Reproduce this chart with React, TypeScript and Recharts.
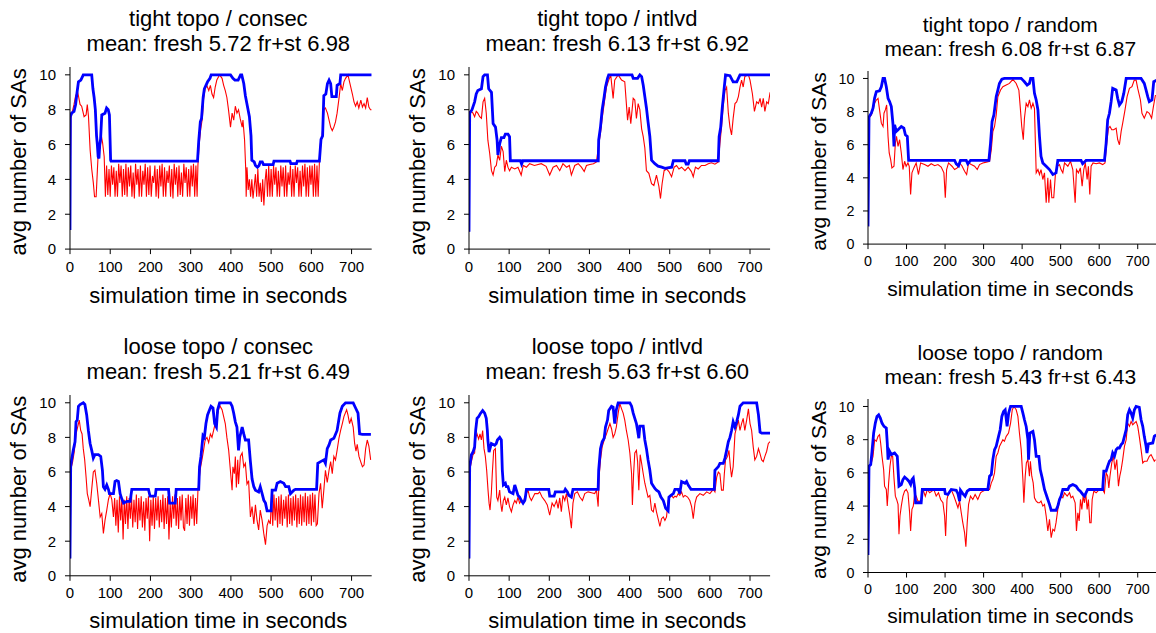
import React from 'react';
import { LineChart, Line, XAxis, YAxis } from 'recharts';

type Pt = [number, number];

const xTicks = [0, 100, 200, 300, 400, 500, 600, 700];
const yTicks = [0, 2, 4, 6, 8, 10];

const panelTitles = [
  'tight topo / consec',
  'tight topo / intlvd',
  'tight topo / random',
  'loose topo / consec',
  'loose topo / intlvd',
  'loose topo / random',
];
const panelMeans = [
  'mean: fresh 5.72 fr+st 6.98',
  'mean: fresh 6.13 fr+st 6.92',
  'mean: fresh 6.08 fr+st 6.87',
  'mean: fresh 5.21 fr+st 6.49',
  'mean: fresh 5.63 fr+st 6.60',
  'mean: fresh 5.43 fr+st 6.43',
];

const tightConsecFrSt: Pt[] = [[0,1.1],[1,7.6],[4,7.8],[10,7.9],[14,8.3],[17,8.9],[21,9.6],[27,9.7],[33,10],[54,10],[57,9.2],[60,8.7],[63,8.0],[66,6.5],[68,6.0],[70,5.3],[72,5.2],[74,6.0],[76,6.3],[79,7.7],[87,7.8],[91,8.1],[95,8.0],[98,7.7],[101,5.1],[102,5.05],[317,5.05],[320,6.2],[324,7.3],[327,7.5],[331,8.7],[334,9.2],[338,9.4],[342,9.6],[348,9.8],[351,10],[399,10],[405,9.8],[410,9.7],[418,9.7],[424,10],[427,10],[432,9.5],[436,8.8],[441,8.2],[446,7.6],[450,6.5],[452,5.1],[458,5.0],[461,4.8],[466,4.7],[470,4.8],[473,5.0],[478,5.0],[481,4.85],[505,4.85],[507,5.05],[547,5.05],[549,4.9],[563,4.9],[565,5.05],[620,5.05],[624,6.3],[628,6.5],[631,8.8],[636,8.9],[640,9.5],[644,9.7],[648,9.5],[651,8.75],[662,8.75],[664,9.4],[671,9.5],[673,10],[750,10]];

const tightConsecFresh: Pt[] = [[0,1.1],[2,7.5],[5,7.8],[10,8.3],[14,8.8],[19,9.0],[21,8.8],[25,8.3],[29,8.2],[32,7.9],[35,7.6],[40,7.7],[43,8.3],[46,7.6],[50,5.7],[54,4.6],[58,3.8],[61,3.0],[65,3.0],[68,4.5],[71,5.9],[75,5.8],[78,6.5],[81,6.1],[85,5.3],[88,3.0],
[91,4.8],[94,3.1],[97,4.6],[100,3.0],[103,4.8],[106,3.7],[109,4.7],[112,3.0],[115,4.5],[118,3.0],[121,4.9],[124,3.8],[127,4.8],[130,3.0],[133,4.6],[136,3.1],[139,4.9],[142,3.0],[145,4.7],[148,3.6],[151,4.8],[154,3.0],[157,4.4],[160,2.9],[163,4.9],[166,3.7],[169,4.6],[172,3.0],[175,4.8],[178,3.0],[181,4.5],[184,3.7],[187,4.9],[190,3.0],[193,4.7],[196,3.1],[199,4.8],[202,3.0],[205,4.2],[208,3.8],[211,4.8],[214,3.0],[217,4.6],[220,2.9],[223,4.8],[226,3.6],[229,4.9],[232,3.0],[235,4.7],[238,3.0],[241,4.5],[244,3.8],[247,4.8],[250,3.0],[253,4.6],[256,2.9],[259,4.9],[262,3.7],[265,4.7],[268,3.0],[271,4.8],[274,3.1],[277,4.4],[280,3.0],[283,4.9],[286,3.8],[289,4.7],[292,3.0],[295,4.6],[298,3.0],[301,4.8],[304,3.6],[307,4.9],[310,3.0],[313,4.8],[316,3.0],[318,4.8],
[321,6.0],[325,6.9],[329,7.5],[332,8.6],[336,9.2],[340,9.4],[345,9.1],[349,9.4],[353,8.9],[357,8.7],[361,9.3],[365,9.7],[372,10],[378,9.8],[382,9.4],[386,9.1],[390,8.7],[394,8.0],[399,7.0],[403,7.8],[407,7.4],[411,8.2],[415,7.8],[419,8.0],[423,7.5],[428,7.0],[430,7.4],[434,6.25],[437,4.5],
[438,3.0],[440,4.7],[443,3.4],[446,4.0],[449,3.0],[452,4.0],[455,2.9],[458,3.6],[461,4.3],[464,3.0],[467,4.6],[470,3.0],[473,3.8],[476,2.7],[479,4.0],[482,2.5],[485,3.9],[488,4.6],[491,3.0],[494,4.8],[497,3.0],[500,4.6],[503,3.0],[506,4.8],[509,3.7],[512,4.7],[515,3.0],[518,4.5],[521,3.0],[524,4.8],[527,3.6],[530,4.7],[533,3.0],[536,4.8],[539,3.0],[542,4.4],[545,3.7],[548,4.8],[551,3.0],[554,4.6],[557,3.0],[560,4.8],[563,3.8],[566,4.7],[569,3.0],[572,4.5],[575,3.0],[578,4.8],[581,3.6],[584,4.9],[587,3.0],[590,4.7],[593,3.0],[596,4.8],[599,3.7],[602,4.8],[605,3.0],[608,4.9],[611,3.0],[614,4.8],[617,3.0],[620,5.0],
[623,6.2],[627,6.5],[631,8.0],[635,8.1],[640,7.8],[644,7.4],[648,7.0],[652,6.8],[656,7.0],[660,7.3],[664,7.8],[669,8.7],[673,9.5],[677,9.1],[681,9.6],[685,9.8],[691,10],[696,9.5],[702,8.9],[706,8.45],[710,8.2],[714,8.45],[718,8.1],[723,8.55],[727,8.15],[731,8.35],[735,8.1],[739,8.7],[743,8.15],[747,8.0],[750,8.0]];

const tightIntlvdFrSt: Pt[] = [[0,1.0],[1.7,7.8],[7.5,8.0],[14,8.45],[18,8.9],[22,9.1],[31,9.2],[35,9.9],[39,10],[46,10],[49,9.2],[56,9.0],[60,7.2],[66,7.0],[70,6.25],[72,5.4],[76.5,6.05],[80.6,6.4],[87,6.4],[90.6,6.6],[97,6.6],[101,6.45],[103,5.07],[128,5.07],[131,4.88],[134,5.07],[322,5.07],[323,6.25],[327.5,7.0],[331.7,8.0],[336.7,8.75],[340,9.3],[345,9.8],[348,10],[406,10],[409,9.8],[420,9.8],[425.6,10],[430,9.9],[434,9.4],[438,8.75],[442,8.1],[446,7.3],[450.5,6.45],[454.7,5.1],[463,4.9],[471,4.76],[480,4.7],[488,4.63],[505,4.7],[509,5.07],[538,5.07],[541,4.88],[546,4.88],[549,5.07],[621,5.07],[623,6.45],[627,7.0],[631,8.15],[635,9.1],[639,10],[650,9.95],[658,9.6],[667,9.6],[675,10],[750,10]];

const tightIntlvdFresh: Pt[] = [[0,1.0],[1.7,7.9],[6,7.9],[10,7.8],[14,7.6],[18,7.9],[22,7.8],[26.6,7.6],[31,7.5],[35,8.45],[39,8.65],[43,7.8],[47,6.25],[51.5,5.5],[56,4.5],[60,4.25],[64,4.7],[68,4.8],[72,5.4],[76.5,5.1],[80.6,5.9],[85,5.6],[89,4.45],[93,5.1],[97,4.7],[101,4.5],[105.6,4.7],[114,4.6],[122,4.7],[130,4.25],[135,4.8],[143,4.7],[151,4.9],[163,4.8],[180,4.9],[192,4.75],[201,4.25],[209.5,4.7],[218,4.8],[226,4.5],[234,4.9],[243,4.7],[250,4.8],[255,4.25],[263.5,4.8],[272,4.9],[280,4.7],[287,4.45],[292.6,4.8],[301,4.85],[310,4.9],[317.5,5.0],[323,6.0],[327.5,6.65],[331.7,7.5],[336.7,8.35],[342.5,9.3],[346.6,9.6],[353,10],[359,8.65],[363,9.7],[371.6,10],[380,9.7],[388,9.6],[395,7.4],[399,8.15],[403,7.2],[409,8.65],[413,8.55],[417,7.5],[421.4,8.35],[425.6,8.0],[430,6.9],[434,6.45],[438,5.8],[442,4.5],[448,4.35],[454.7,3.75],[460.5,3.65],[467,4.25],[473,3.6],[477,2.9],[481,3.75],[486,4.5],[492,4.6],[498,4.45],[504.6,4.15],[511,4.7],[517,4.8],[523,4.6],[529.5,4.7],[538,4.5],[546,4.7],[554,4.45],[558.6,4.15],[564,4.7],[571,4.6],[579,4.8],[588,4.8],[596,4.9],[604,4.95],[612.6,4.87],[621,5.0],[625,6.05],[629,7.0],[633,8.15],[637.6,9.1],[641.7,9.3],[646,7.8],[650,7.0],[654,6.55],[658,7.5],[662.5,8.35],[666.7,8.45],[671,8.75],[675,9.3],[679,9.7],[683,9.3],[687,9.9],[696,10],[700,9.7],[706,8.9],[711,7.9],[716.5,8.45],[721,8.35],[725,8.65],[729,8.15],[733,8.65],[737,7.9],[741.5,8.45],[745.6,8.35],[750,9.0]];

const tightRandomFrSt: Pt[] = [[0,1.07],[2.6,7.67],[8.6,7.9],[13,8.2],[17,8.8],[21.6,9.2],[30,9.25],[34.6,9.5],[39,10],[43,10],[47.5,9.5],[52,8.8],[56,8.6],[60.5,8.3],[65,7.2],[67.4,5.9],[69,7.2],[73.5,6.8],[78,6.9],[82,7.0],[86.4,7.1],[93,7.0],[97,6.6],[102,6.5],[105.4,5.05],[224.7,5.05],[229,4.85],[235,4.73],[240,5.05],[255,5.05],[259,4.85],[266,5.05],[313.7,5.05],[318,6.1],[322,7.4],[326.7,7.8],[332.7,8.9],[337,9.3],[341,9.7],[347.4,9.95],[354,10],[397.6,10],[402,9.9],[406,9.8],[413,9.6],[419,9.7],[422,10],[428,10],[432,9.1],[436.5,8.7],[441,8.1],[445,6.5],[449,5.3],[453.7,4.9],[462.4,4.7],[471,4.5],[479.7,4.2],[488,4.3],[492.6,5.05],[553,5.05],[557,4.85],[566,5.05],[613.7,5.05],[618,6.1],[622,7.5],[626.6,7.9],[631,8.6],[635,9.4],[644,9.3],[648,8.8],[652.5,8.4],[658.6,8.6],[663.8,9.1],[670,10],[708.7,10],[717,9.7],[721.7,9.3],[726,8.9],[730,8.6],[737,8.7],[741.5,9.8],[750,9.9]];

const tightRandomFresh: Pt[] = [[0,1.07],[2.6,7.6],[8.6,7.8],[13,8.1],[17,8.5],[21.6,8.7],[26,8.8],[30,8.1],[34.6,7.3],[39,7.1],[41.5,7.9],[45,8.1],[48.4,8.4],[52,6.5],[55,5.5],[58.8,5.1],[62,4.6],[67.4,4.7],[71,6.1],[74,6.5],[78,5.9],[82,6.3],[86.4,5.5],[90.7,4.5],[95,5.0],[99,4.7],[103.7,4.9],[107,4.7],[110.6,3.0],[114,4.3],[119,4.6],[125,4.9],[131,4.2],[136.5,4.9],[147,4.8],[155.6,4.7],[164,4.85],[173,4.73],[181.5,4.8],[190,4.65],[197,4.3],[200.6,2.8],[204,4.5],[209,4.9],[218,4.7],[224.7,4.5],[231.6,4.6],[237.7,4.9],[243.7,4.73],[250.6,4.4],[256,4.2],[261,4.9],[268,4.8],[276.6,4.7],[283.5,4.5],[289.5,4.8],[298,4.9],[307,4.95],[315.5,5.0],[320,5.7],[324,6.8],[328.4,7.1],[332.7,7.8],[337,8.9],[344,9.3],[350,9.5],[358.7,9.6],[367,9.7],[376,9.95],[384.6,9.7],[391.5,9.3],[395,8.3],[399,7.1],[403,6.3],[406,7.6],[410.5,8.5],[415,8.3],[419,8.7],[423.5,8.2],[428,8.5],[432,8.2],[436.5,4.3],[441,4.5],[445,4.2],[449,4.5],[453.7,3.9],[458,4.3],[462.4,2.5],[466.7,4.0],[469.3,2.5],[473.6,3.9],[477,2.8],[482,2.8],[486.6,4.3],[491,4.7],[497,4.8],[501,4.5],[505.6,4.3],[510,4.9],[518.6,4.7],[525.5,5.0],[531.5,4.5],[537.6,2.5],[541,4.5],[546,4.3],[551,4.6],[555.7,3.5],[560,4.5],[564,4.9],[568.7,3.9],[572,4.7],[575.6,3.0],[579,4.7],[584,4.9],[592,4.85],[600.7,4.9],[609,4.8],[615,4.9],[619.6,6.1],[624,7.0],[628,7.1],[632.6,6.9],[637.8,6.9],[644,7.0],[648,6.3],[652.5,6.0],[657,6.8],[661,7.3],[667,8.1],[672.4,8.9],[678.5,9.4],[685,9.5],[691,9.9],[695.8,9.9],[700,9.4],[707,8.7],[711,7.9],[717,7.6],[724,8.0],[730,7.9],[736,7.6],[740.7,8.3],[746,9.0]];

const looseConsecFrSt: Pt[] = [[0,1.0],[1.7,6.3],[4,6.7],[8,7.25],[12.5,7.75],[15,8.9],[18,9.0],[21,9.8],[25,9.9],[33,10],[37,9.9],[41.5,9.3],[45.7,8.4],[50,7.65],[54,7.25],[58,6.8],[62,7.0],[70.6,7.0],[76.4,6.9],[80.6,6.1],[83,5.15],[87,5.0],[91.4,5.25],[95.5,5.0],[98,4.75],[108,4.75],[112,5.45],[116,5.5],[120.4,5.45],[124.6,4.75],[128.7,4.45],[133,4.2],[141,4.3],[149.5,4.3],[153.7,5.0],[195,5.0],[199,4.6],[212,4.6],[214,5.0],[245,5.0],[247.5,4.2],[261.6,4.2],[264,5.0],[320,5.0],[322,6.3],[325.6,6.9],[330.6,8.1],[334,8.0],[338,8.8],[342,9.3],[347,9.6],[350.5,9.8],[355.5,9.7],[359.6,8.8],[364,8.6],[367,9.6],[372,10],[398.7,10],[403,9.8],[407,9.4],[411,8.9],[415,8.6],[419,7.25],[422,8.0],[428,8.6],[432,8.2],[436,7.85],[444,7.85],[448.5,6.6],[452.6,5.6],[457,5.15],[461,4.95],[469,4.85],[473,5.15],[477.6,4.75],[481.7,4.37],[486,4.2],[490,3.75],[500,3.75],[502.5,4.95],[511,4.95],[515,5.35],[523,5.45],[531.5,5.35],[536,5.15],[544,5.15],[548,4.75],[556.5,4.95],[560.6,5.0],[613,5.0],[616,6.5],[623,6.6],[631,6.7],[635,6.5],[639.5,7.35],[643.7,7.55],[648,7.85],[656,7.95],[664,8.4],[671,9.4],[677,9.8],[685,10],[704,10],[710,9.7],[716,9.4],[720,8.2],[727,8.17],[748,8.17]];

const looseConsecFresh: Pt[] = [[0,1.0],[2.5,6.2],[6.6,6.6],[10.8,7.2],[15,8.2],[19,8.6],[23,9.0],[26.6,8.4],[30,8.2],[33,7.35],[36.5,6.7],[40,5.7],[43,4.75],[46.5,4.4],[50,4.0],[54,5.0],[58,6.0],[62,6.1],[66.4,5.35],[70.6,4.4],[75,3.4],[79,3.6],[83,2.45],[87,3.2],[91.4,3.8],[95.5,4.4],[99.7,4.75],[104,4.4],[108,3.4],
[111,4.5],[114,2.9],[117,4.4],[120,2.5],[123,4.6],[126,3.2],[129,4.5],[132,2.1],[135,4.4],[138,3.0],[141,4.6],[144,2.7],[147,4.5],[150,3.3],[153,4.6],[156,2.8],[159,4.4],[162,3.1],[165,4.7],[168,2.7],[171,4.5],[174,3.2],[177,4.6],[180,2.8],[183,4.3],[186,2.6],[189,4.5],[192,3.3],[195,4.6],[198,2.0],[201,4.4],[204,2.9],[207,4.6],[210,2.7],[213,4.5],[216,3.2],[219,4.6],[222,2.8],[225,4.4],[228,3.1],[231,4.7],[234,2.7],[237,4.5],[240,3.0],[243,4.6],[246,2.1],[249,4.2],[252,2.8],[255,4.6],[258,3.3],[261,4.7],[264,2.9],[267,4.5],[270,2.7],[273,4.6],[276,3.2],[279,4.7],[282,2.8],[285,2.6],[288,4.5],[291,3.0],[294,4.7],[297,2.9],[300,4.6],[303,3.3],[306,4.7],[309,2.9],[312,4.5],[315,3.0],[318,4.9],
[324,6.2],[328,6.7],[332,7.25],[336,7.85],[340.5,8.0],[344.7,7.7],[349,8.2],[353,8.0],[357,8.4],[361,8.8],[365.5,9.2],[372,9.85],[378,9.6],[382,9.2],[386,8.8],[390,8.0],[394.5,7.25],[398.7,6.1],[403,4.95],[405,6.3],[408.6,5.9],[411,6.9],[413.6,5.1],[417,6.7],[419,5.3],[423.6,6.9],[428,7.1],[432,6.3],[436,6.5],[440,5.3],[444,5.5],[448.5,3.4],[452.6,4.0],[457,3.0],[461,4.1],[465,3.2],[469,2.65],[473,3.8],[477.6,3.2],[481.7,2.45],[486,1.8],[490,2.9],[494,3.2],[498,3.0],
[501,4.6],[504,2.9],[507,4.7],[510,3.2],[513,4.5],[516,2.8],[519,4.6],[522,3.0],[525,4.7],[528,2.9],[531,4.4],[534,3.3],[537,4.6],[540,2.8],[543,4.7],[546,3.0],[549,4.5],[552,2.9],[555,4.6],[558,3.2],[561,4.7],[564,2.8],[567,4.5],[570,3.0],[573,4.7],[576,2.9],[579,4.6],[582,3.1],[585,4.8],[588,2.9],[591,4.6],[594,3.0],[597,4.7],[600,2.9],[603,4.8],[606,3.1],[609,4.7],[612,2.9],[615,3.0],
[619,4.75],[623,5.35],[627,3.9],[631,4.95],[635,6.1],[639.5,5.4],[644,6.1],[648,6.6],[652,5.9],[656,6.9],[660,6.7],[664,7.25],[668.6,7.95],[672.8,8.4],[677,8.8],[681,9.2],[687.7,9.6],[691,9.3],[695,8.8],[699,9.1],[704,8.6],[707.6,7.65],[711,7.2],[714,7.6],[718.4,6.9],[722.6,6.6],[727,6.3],[731,6.4],[735,7.35],[739,7.85],[743,7.5],[747.5,6.7]];

const looseIntlvdFrSt: Pt[] = [[0,1.0],[1.7,6.3],[6,7.0],[10,7.15],[14,7.45],[16.6,8.4],[20,9.1],[24,9.2],[29,9.4],[34,9.55],[39,9.4],[43,9.1],[45.7,8.4],[47,7.85],[50,7.15],[55.7,7.65],[64,7.55],[68,7.65],[70.7,7.85],[76.5,8.0],[80.6,7.85],[83,6.1],[85.6,5.25],[90.6,5.35],[93,5.15],[97,5.15],[101,4.85],[109.7,4.75],[114,5.25],[118,4.95],[122,4.65],[126,4.55],[130.5,4.35],[134.7,4.2],[139,4.35],[140.5,4.55],[143,5.0],[198.7,5.0],[201,4.6],[212,4.6],[215,4.85],[237,4.85],[240,5.0],[245,4.85],[248.5,4.65],[255,4.55],[259,5.0],[321.7,5.0],[323,6.1],[327.5,7.35],[331.7,7.75],[336.7,7.95],[340,8.6],[345,9.0],[348,9.55],[355,9.8],[359,9.75],[363,8.8],[367,9.6],[371.6,10],[400.7,10],[405,9.8],[409,9.4],[413,9.1],[417,8.8],[420,8.4],[423,7.95],[425.6,8.65],[434,8.65],[438,7.85],[442,7.35],[446,6.7],[450.5,6.1],[454.7,5.35],[463,5.05],[467,4.95],[473,4.85],[478,4.55],[484,4.35],[490,3.9],[496,3.75],[498,4.55],[503,4.65],[509,4.75],[513,5.0],[521,5.0],[525,4.75],[529.5,5.45],[538,5.35],[542,5.45],[546,5.25],[553,5.0],[611,5.0],[612.6,6.1],[621,6.3],[625,6.5],[633.4,6.5],[637.6,6.8],[641.7,7.25],[646,7.75],[650,8.0],[654,8.4],[658,8.9],[662.5,8.6],[666.7,8.9],[671,9.3],[675,9.8],[683,10],[716.5,10],[721,9.3],[725,8.3],[729,8.25],[750,8.25]];

const looseIntlvdFresh: Pt[] = [[0,1.0],[1.7,6.1],[6,6.6],[10,7.0],[14,7.1],[16.6,8.0],[20,8.2],[24,7.9],[27.4,8.2],[30.8,7.85],[34,8.4],[37.4,7.35],[40.7,6.9],[44,6.1],[47.4,4.95],[50,4.2],[52.4,3.8],[55.7,4.8],[58,5.9],[61.5,7.25],[65.7,7.35],[69,4.55],[72,4.35],[76.5,4.95],[79,4.2],[82,3.7],[85.6,4.35],[89,4.55],[93,4.1],[97,4.5],[101,4.0],[105.6,3.7],[109.7,4.1],[114,4.35],[118,4.2],[122,4.55],[126,4.2],[130.5,4.35],[134.7,4.2],[139,4.55],[143,4.75],[147,4.95],[151,4.55],[155.4,4.35],[164,4.75],[172,4.75],[176,4.85],[182,4.55],[188.7,4.35],[195,4.1],[201,3.5],[207,4.2],[212,4.0],[218,4.35],[222,3.9],[226,4.5],[230,3.7],[234,4.65],[238.6,4.35],[242.7,4.75],[247,4.1],[251,3.5],[255,2.75],[259,4.2],[263.5,4.75],[270,4.85],[276,4.55],[282.6,4.35],[288.4,4.75],[296.7,4.85],[305,4.8],[313,4.75],[317.5,4.95],[321.7,4.0],[324,5.7],[327.5,6.7],[331.7,7.45],[336.7,7.85],[342.5,8.2],[346.6,8.5],[351,8.8],[355,8.5],[359,8.0],[363,8.2],[367,8.6],[371.6,9.4],[375.7,9.95],[380,9.65],[384,9.4],[388,9.0],[392,8.4],[396.5,7.85],[400.7,7.1],[405,5.9],[407,4.1],[410,5.9],[413,7.1],[417,7.25],[420,6.6],[423,4.95],[426.4,7.0],[430,6.5],[434,5.9],[438,5.35],[442,4.95],[446,4.55],[450.5,4.65],[454.7,3.8],[459,3.7],[463,4.2],[467,3.7],[471,3.3],[475.5,2.85],[479.6,3.3],[484,3.4],[488,3.2],[492,3.4],[496,4.35],[500,4.55],[504.6,4.65],[509,4.5],[513,4.6],[517,4.55],[521,4.75],[525,4.65],[529.5,4.85],[533.7,4.55],[538,4.65],[544.5,4.55],[550,4.35],[554.5,4.0],[558.6,3.3],[563,4.2],[567,4.55],[575,4.75],[583.5,4.65],[592,4.85],[600,4.75],[608.5,5.0],[612.6,4.85],[617,5.7],[621,6.0],[625,5.9],[629,4.95],[633.4,4.95],[636,5.9],[639,6.7],[644,6.9],[647.5,7.25],[651,6.3],[654,5.7],[658,6.3],[662.5,8.2],[666.7,8.6],[671,9.0],[675,8.4],[679,8.8],[683,9.1],[687,8.4],[691.6,9.0],[696,9.65],[700,8.8],[704,8.4],[708,7.45],[712,6.7],[716.5,6.9],[721,7.35],[725,7.05],[729,6.7],[733,6.6],[737,6.9],[741.5,7.2],[745.6,7.65],[750,7.75]];

const looseRandomFrSt: Pt[] = [[0,1.06],[2.6,6.4],[7,6.5],[10.4,7.3],[14.7,8.4],[19,9.0],[23.3,9.4],[27.7,9.5],[32,9.3],[36.3,9.0],[41.5,8.8],[47.5,8.7],[50,7.8],[52,6.8],[56,7.3],[60.5,7.1],[69,7.2],[76,7.0],[78,6.2],[80.4,5.2],[86.4,5.3],[90.7,5.6],[95,5.75],[102,5.6],[106,5.5],[110.6,5.3],[114,5.6],[117.5,5.7],[121,5.1],[123.6,4.2],[138,4.2],[141,5.0],[198.8,5.0],[200.5,4.75],[207.4,4.7],[216,5.0],[229,4.95],[233.4,4.75],[237.7,4.3],[240,4.95],[246,4.75],[252,4.6],[257.5,4.9],[263.6,5.0],[311,5.0],[315.5,5.8],[320,5.9],[324,6.8],[328.4,7.4],[332.7,7.6],[338.8,8.2],[343,8.6],[347.4,9.4],[351.8,9.7],[356,9.8],[361,8.8],[365,9.6],[370,10],[397.6,10],[402,9.6],[406,9.2],[410.5,8.8],[415,8.0],[416.6,6.8],[420,8.4],[428,8.5],[432,8.0],[436.5,7.0],[443.4,7.0],[447,6.2],[452,5.7],[458,5.0],[462.4,4.7],[466.7,4.4],[471,4.1],[475.4,3.75],[488,3.75],[492.6,4.0],[497,4.4],[501,4.6],[505.6,5.0],[518.6,5.0],[523,5.2],[531.5,5.3],[540,5.2],[546,5.0],[551,4.9],[557.5,4.7],[561.8,4.6],[570,5.0],[609,5.0],[612,6.1],[618,6.1],[622,6.4],[626.6,6.7],[631,6.8],[635,7.2],[639.6,7.0],[644,7.4],[648,7.5],[652.5,7.5],[657,7.7],[661,7.8],[665.5,8.2],[670,8.6],[674,9.5],[678.5,9.8],[682.8,9.6],[687,9.3],[691.4,9.8],[695.8,10],[704,9.95],[708.7,9.2],[713,8.8],[717,8.2],[721.7,7.6],[724,7.2],[727.7,7.75],[739,7.8],[743,8.2],[748,8.3]];

const looseRandomFresh: Pt[] = [[0,1.06],[2.6,6.4],[8.6,6.6],[13,7.0],[17.3,8.0],[21.6,7.9],[26,8.2],[30,8.3],[32.8,7.8],[36.3,7.0],[40.6,6.2],[43,5.2],[47.5,5.0],[50,4.0],[53.6,5.4],[57,6.4],[60.5,7.0],[64,7.0],[67.4,5.7],[71,4.6],[74.3,4.4],[78,4.1],[80.4,2.3],[83,3.4],[86.4,4.0],[90.7,4.6],[95,4.9],[99.4,5.0],[103.7,4.8],[108,3.6],[110.6,2.5],[114,3.8],[117.5,4.0],[121,4.7],[125,4.6],[129.6,4.3],[138,4.3],[142.6,5.0],[148.7,4.6],[154,5.0],[160,4.8],[166,4.9],[171,5.0],[177,4.6],[183,4.8],[188.4,4.4],[194.5,4.2],[198.8,3.4],[201.4,2.2],[205,4.4],[209,4.8],[216,5.0],[223,4.6],[229,4.2],[233.4,3.9],[237.7,4.3],[242,3.6],[246,3.0],[250.6,2.4],[254,1.55],[257.5,3.0],[261,4.1],[266,4.6],[272,4.4],[278,4.7],[285,4.4],[292,4.8],[298,4.9],[307,5.0],[315.5,5.0],[320,5.4],[324,5.6],[328.4,6.0],[332.7,7.0],[337,7.2],[341.4,7.6],[345.7,7.8],[350,8.0],[354,7.9],[358.7,8.2],[364.7,8.4],[370,9.0],[374.4,9.8],[378.6,10],[384.6,9.8],[389,9.4],[393,8.4],[397.6,7.4],[402,5.6],[404.5,4.2],[408,5.8],[411,6.6],[415,6.8],[419,5.8],[421.4,6.7],[425,5.8],[428.7,5.4],[432,4.5],[436.5,4.3],[441,4.2],[445,4.2],[449,4.3],[453.7,4.0],[458,4.1],[462.4,3.4],[466.7,2.5],[471,3.2],[475.4,2.1],[479.7,2.6],[484,2.5],[488,3.0],[492.6,3.8],[497,4.3],[501,4.6],[505.6,4.5],[510,4.8],[517,4.6],[523,4.8],[527,4.5],[531.5,4.6],[537.6,4.2],[541,2.5],[544.6,3.6],[548,3.1],[551.4,4.4],[555,3.8],[558.3,4.6],[561.8,4.2],[565,4.8],[568.7,3.8],[572,4.4],[575.6,3.0],[579,3.0],[581.8,4.4],[586,4.9],[592,4.8],[600.6,5.0],[609,5.0],[613.5,4.8],[618,6.0],[622,5.8],[625,5.1],[628,5.8],[632.6,6.6],[637,7.0],[641,6.2],[645.6,6.8],[650,5.2],[653.4,5.8],[657,6.2],[661,6.8],[665.5,7.6],[670,8.0],[674,9.0],[678.5,8.8],[682.8,9.1],[687,8.9],[691.4,9.0],[695.8,9.1],[700,8.8],[704,8.2],[708.7,7.4],[713,6.6],[717,6.7],[724,6.7],[730,7.0],[734.6,7.1],[739,6.9],[743,6.7],[746,6.8]];

const freshSeries = [tightConsecFresh, tightIntlvdFresh, tightRandomFresh, looseConsecFresh, looseIntlvdFresh, looseRandomFresh];
const frStSeries = [tightConsecFrSt, tightIntlvdFrSt, tightRandomFrSt, looseConsecFrSt, looseIntlvdFrSt, looseRandomFrSt];

const FONT = '"Liberation Sans", Arial, Helvetica, sans-serif';
const Y_MAX = 10.45;

interface Frame { left: number; right: number; top: number; bottom: number; s: number; xl: number; }

const frames: Frame[] = [
  { left: 70, right: 371.7, top: 66.9, bottom: 249, s: 1, xl: 54 },
  { left: 469.3, right: 770.4, top: 66.9, bottom: 249, s: 1, xl: 54 },
  { left: 868.3, right: 1157.3, top: 71.2, bottom: 244.3, s: 0.955, xl: 54 },
  { left: 70, right: 371.7, top: 394.9, bottom: 575.7, s: 1, xl: 52 },
  { left: 469.3, right: 770.4, top: 394.9, bottom: 575.7, s: 1, xl: 52 },
  { left: 868.3, right: 1157.3, top: 399.2, bottom: 572.7, s: 0.955, xl: 53 },
];

const toRows = (pts: Pt[]) => pts.map(([t, v]) => ({ t, v }));

function Panel({ f, idx }: { f: Frame; idx: number }) {
  const YW = 60;
  const XH = 50;
  const MT = 2;
  const MR = 3;
  const chartLeft = f.left - YW;
  const chartTop = f.top - MT;
  const width = f.right - chartLeft + MR;
  const height = f.bottom + XH - chartTop;
  const tickStyle = { fontSize: 15 * f.s, fill: '#000', fontFamily: FONT };
  return (
    <div style={{ position: 'absolute', left: chartLeft, top: chartTop, width, height }}>
      <LineChart width={width} height={height} margin={{ top: MT, right: MR, left: 0, bottom: 0 }}>
        <XAxis
          type="number"
          dataKey="t"
          domain={[0, 750]}
          ticks={xTicks}
          interval={0}
          allowDataOverflow
          height={XH}
          tickSize={5}
          tickMargin={7 * f.s}
          stroke="#000"
          tick={tickStyle}
        />
        <YAxis
          type="number"
          dataKey="v"
          domain={[0, Y_MAX]}
          ticks={yTicks}
          interval={0}
          allowDataOverflow
          width={YW}
          tickSize={5}
          tickMargin={9 * f.s}
          stroke="#000"
          tick={tickStyle}
        />
        <Line
          data={toRows(freshSeries[idx])}
          dataKey="v"
          type="linear"
          stroke="#ff0000"
          strokeWidth={1.1}
          dot={false}
          activeDot={false}
          isAnimationActive={false}
        />
        <Line
          data={toRows(frStSeries[idx])}
          dataKey="v"
          type="linear"
          stroke="#0000ff"
          strokeWidth={2.8}
          dot={false}
          activeDot={false}
          isAnimationActive={false}
        />
      </LineChart>
    </div>
  );
}

function Labels() {
  return (
    <svg
      width={1156}
      height={633}
      style={{ position: 'absolute', left: 0, top: 0, pointerEvents: 'none' }}
    >
      {frames.map((f, i) => {
        const cx = (f.left + f.right) / 2 - 2.5;
        const y10 = f.bottom - ((f.bottom - f.top) / Y_MAX) * 10;
        const cy = (y10 + f.bottom) / 2;
        const fs = 22 * f.s;
        const yx = f.left - 44 * f.s;
        return (
          <g key={i} fontFamily={FONT} fill="#000">
            <text x={cx} y={f.top - 41 * f.s} textAnchor="middle" fontSize={fs}>{panelTitles[i]}</text>
            <text x={cx} y={f.top - 16 * f.s} textAnchor="middle" fontSize={fs}>{panelMeans[i]}</text>
            <text x={cx} y={f.bottom + f.xl * f.s} textAnchor="middle" fontSize={fs}>simulation time in seconds</text>
            <text
              x={yx}
              y={cy}
              textAnchor="middle"
              fontSize={fs}
              transform={`rotate(-90 ${yx} ${cy})`}
            >avg number of SAs</text>
          </g>
        );
      })}
    </svg>
  );
}

export default function App() {
  return (
    <div style={{ position: 'absolute', left: 0, top: 0, width: 1156, height: 633, background: '#fff', overflow: 'hidden' }}>
      {frames.map((f, i) => (
        <Panel key={i} f={f} idx={i} />
      ))}
      <Labels />
    </div>
  );
}
